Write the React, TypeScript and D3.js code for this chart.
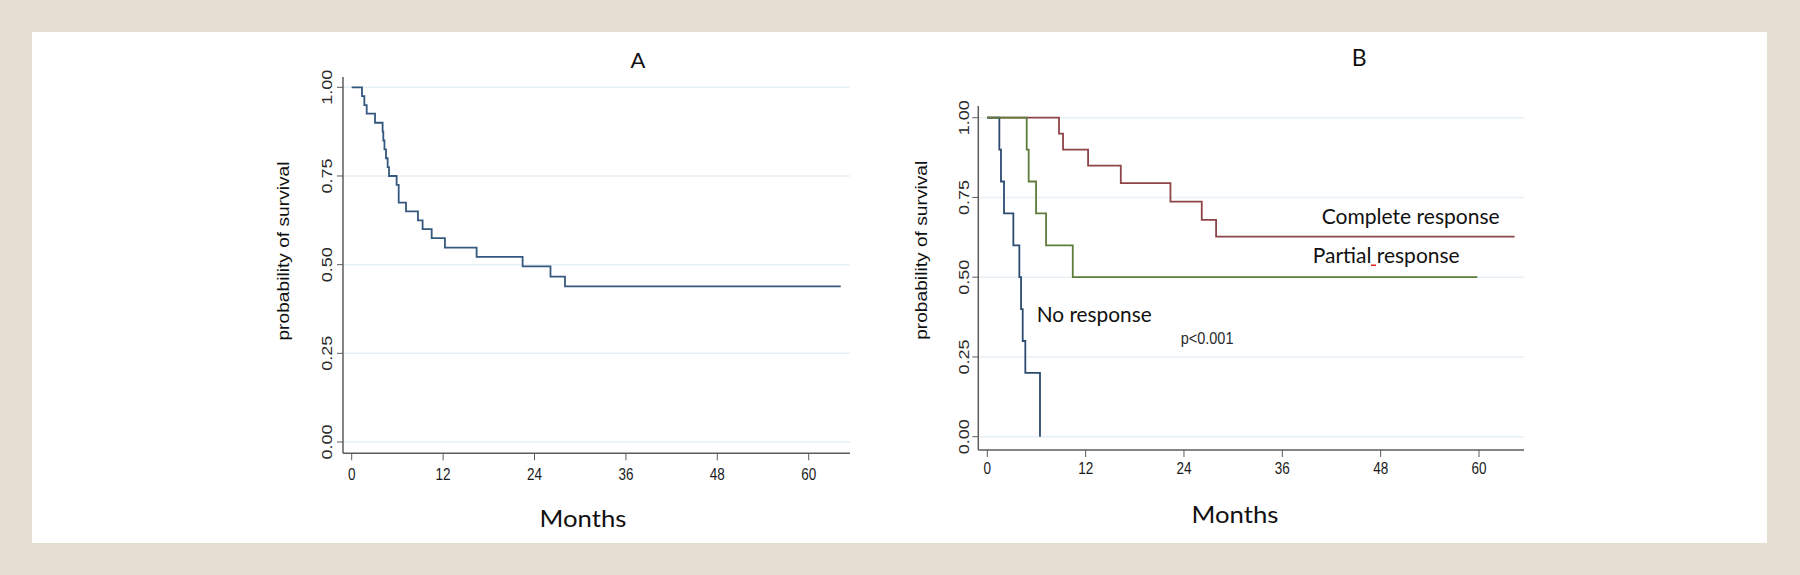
import React, { useEffect, useRef } from "react";
import * as d3 from "d3";

// shared axis ticks
const monthTicks = [0, 12, 24, 36, 48, 60];
const probTicks = [0, 0.25, 0.5, 0.75, 1];

// panel A: all patients
const allMonths = [0, 1.35, 1.66, 1.97, 3.06, 4.06, 4.15, 4.3, 4.5, 4.72, 4.9, 5.9, 6.17, 7.13, 8.7, 9.31, 10.5, 12.24, 16.4, 22.44, 26.1, 28.0, 64.2];
const allSurv = [1, 0.975, 0.95, 0.926, 0.9, 0.875, 0.85, 0.825, 0.8, 0.775, 0.75, 0.725, 0.675, 0.65, 0.625, 0.6, 0.575, 0.548, 0.522, 0.495, 0.466, 0.439, 0.439];

// panel B: by response
const completeMonths = [0, 8.75, 9.24, 12.3, 16.29, 22.35, 26.17, 27.92, 64.35];
const completeSurv = [1, 0.95, 0.9, 0.85, 0.795, 0.737, 0.68, 0.627, 0.627];
const partialMonths = [0, 4.81, 5.05, 5.95, 7.17, 10.43, 59.8];
const partialSurv = [1, 0.9, 0.8, 0.7, 0.6, 0.5, 0.5];
const noneMonths = [0, 1.47, 1.67, 2.04, 3.18, 3.91, 4.12, 4.32, 4.64, 6.43];
const noneSurv = [1, 0.9, 0.8, 0.7, 0.6, 0.5, 0.4, 0.3, 0.2, 0];

const W = 1800;
const H = 575;
const STATA = "'Liberation Sans', Arial, sans-serif";
const CAL = "Lato, 'Open Sans', sans-serif";

function drawPanel(svg, p) {
  const x = d3.scaleLinear().domain([0, 60]).range([p.x0, p.x60]);
  const y = d3.scaleLinear().domain([0, 1]).range([p.y0, p.y1]);
  const g = svg.append("g");

  // gridlines
  g.selectAll(".grid")
    .data(probTicks)
    .enter()
    .append("line")
    .attr("x1", p.axisX)
    .attr("x2", p.axisEnd)
    .attr("y1", (d) => y(d))
    .attr("y2", (d) => y(d))
    .attr("stroke", "#e6f0f5")
    .attr("stroke-width", 1.5);

  // axes
  g.append("line")
    .attr("x1", p.axisX).attr("x2", p.axisX)
    .attr("y1", p.axisTop).attr("y2", p.axisY)
    .attr("stroke", "#5c5c5c").attr("stroke-width", 1.5);
  g.append("line")
    .attr("x1", p.axisX).attr("x2", p.axisEnd)
    .attr("y1", p.axisY).attr("y2", p.axisY)
    .attr("stroke", "#5c5c5c").attr("stroke-width", 1.5);

  // y ticks + labels (rotated, stretched like the stata export)
  g.selectAll(".yt")
    .data(probTicks)
    .enter()
    .append("line")
    .attr("x1", p.axisX - 6).attr("x2", p.axisX)
    .attr("y1", (d) => y(d)).attr("y2", (d) => y(d))
    .attr("stroke", "#5c5c5c").attr("stroke-width", 1);
  g.selectAll(".yl")
    .data(probTicks)
    .enter()
    .append("text")
    .attr("transform", (d) => `translate(${p.yLabX},${y(d)}) rotate(-90) scale(1.2,1)`)
    .attr("text-anchor", "middle")
    .style("font-family", STATA)
    .style("font-size", "15px")
    .style("fill", "#2a2a2a")
    .text((d) => d3.format(".2f")(d));

  // x ticks + labels
  g.selectAll(".xt")
    .data(monthTicks)
    .enter()
    .append("line")
    .attr("x1", (d) => x(d)).attr("x2", (d) => x(d))
    .attr("y1", p.axisY).attr("y2", p.axisY + 7)
    .attr("stroke", "#5c5c5c").attr("stroke-width", 1);
  g.selectAll(".xl")
    .data(monthTicks)
    .enter()
    .append("text")
    .attr("transform", (d) => `translate(${x(d)},${p.xLabY}) scale(1,1.2)`)
    .attr("text-anchor", "middle")
    .style("font-family", STATA)
    .style("font-size", "13.5px")
    .style("fill", "#1a1a1a")
    .text((d) => d);

  // y title
  g.append("text")
    .attr("transform", `translate(${p.yTitleX},${p.yTitleY}) rotate(-90) scale(1.2,1)`)
    .attr("text-anchor", "middle")
    .style("font-family", STATA)
    .style("font-size", "16px")
    .style("fill", "#111")
    .text("probability of survival");

  // x title and panel letter
  g.append("text")
    .attr("x", p.monthsX).attr("y", p.monthsY)
    .attr("text-anchor", "middle")
    .attr("textLength", 87).attr("lengthAdjust", "spacingAndGlyphs")
    .style("font-family", CAL)
    .style("font-size", "24px")
    .style("fill", "#111")
    .text("Months");
  g.append("text")
    .attr("x", p.letterX).attr("y", p.letterY)
    .attr("text-anchor", "middle")
    .style("font-family", CAL)
    .style("font-size", p.letterSize)
    .style("fill", "#111")
    .text(p.letter);

  const line = d3
    .line()
    .x((d) => x(d[0]))
    .y((d) => y(d[1]))
    .curve(d3.curveStepAfter);

  p.curves.forEach((c) => {
    g.append("path")
      .datum(d3.zip(c.months, c.surv))
      .attr("d", line)
      .attr("fill", "none")
      .attr("stroke", c.color)
      .attr("stroke-width", 1.8);
  });

  return g;
}

const App = () => {
  const ref = useRef(null);

  useEffect(() => {
    const svg = d3.select(ref.current);
    svg.selectAll("*").remove();

    svg.append("rect").attr("width", W).attr("height", H).attr("fill", "#e5dfd3");
    svg.append("rect")
      .attr("x", 32).attr("y", 32)
      .attr("width", 1735).attr("height", 511)
      .attr("fill", "#ffffff");

    drawPanel(svg, {
      x0: 351.7, x60: 808.7, y0: 442, y1: 87.3,
      axisX: 343, axisY: 453.3, axisTop: 77, axisEnd: 850,
      yLabX: 331.7, xLabY: 480, yTitleX: 289, yTitleY: 251,
      monthsX: 583, monthsY: 527, letterX: 638, letterY: 67.7, letterSize: "22px", letter: "A",
      curves: [{ months: allMonths, surv: allSurv, color: "#35587e" }],
    });

    const b = drawPanel(svg, {
      x0: 987.3, x60: 1479, y0: 436.7, y1: 117.7,
      axisX: 978.3, axisY: 450, axisTop: 106, axisEnd: 1524,
      yLabX: 969, xLabY: 474, yTitleX: 926.7, yTitleY: 250.3,
      monthsX: 1235, monthsY: 523.3, letterX: 1359.3, letterY: 66, letterSize: "23px", letter: "B",
      curves: [
        { months: completeMonths, surv: completeSurv, color: "#8e4448" },
        { months: noneMonths, surv: noneSurv, color: "#2d4b70" },
        { months: partialMonths, surv: partialSurv, color: "#5e7d3c" },
      ],
    });

    const lab = [
      { t: "Complete response", x: 1321.7, y: 224.3, w: 178 },
      { t: "Partial response", x: 1312.7, y: 263.3, w: 147 },
      { t: "No response", x: 1036.7, y: 322, w: 115 },
    ];
    b.selectAll(".lab")
      .data(lab)
      .enter()
      .append("text")
      .attr("x", (d) => d.x).attr("y", (d) => d.y)
      .attr("textLength", (d) => d.w).attr("lengthAdjust", "spacingAndGlyphs")
      .style("font-family", CAL)
      .style("font-size", "22px")
      .style("fill", "#111")
      .text((d) => d.t);
    // spell-check mark left in the original slide
    b.append("rect").attr("x", 1371).attr("y", 264.5).attr("width", 5).attr("height", 1.5).attr("fill", "#e0201c");

    b.append("text")
      .attr("transform", "translate(1180.7,344) scale(1,1.2)")
      .style("font-family", STATA)
      .style("font-size", "14.5px")
      .style("fill", "#2a2a2a")
      .text("p<0.001");
  }, []);

  return (
    <svg
      ref={ref}
      width={W}
      height={H}
      style={{ position: "absolute", left: 0, top: 0, display: "block" }}
    />
  );
};

export default App;
